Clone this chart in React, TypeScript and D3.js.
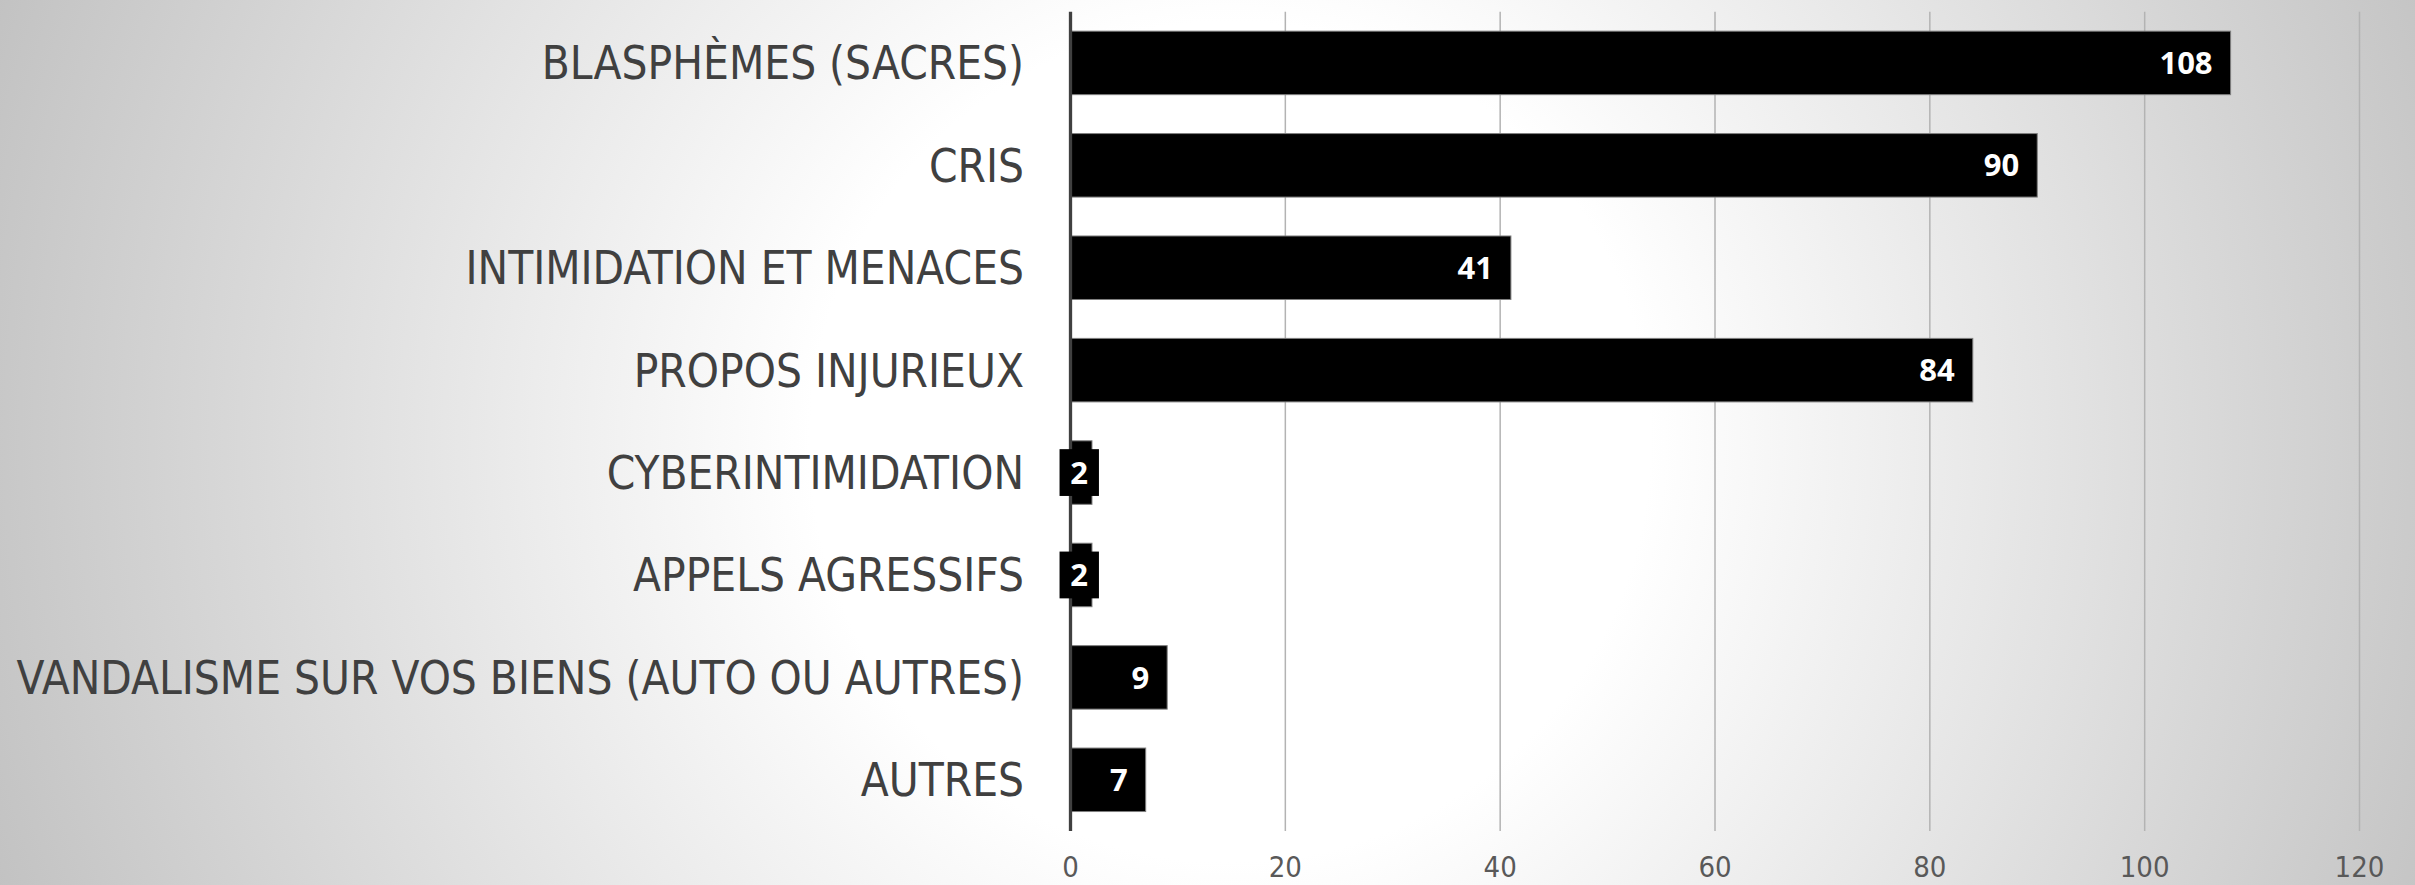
import React from "react";
import * as d3 from "d3";

const categories = [
  "BLASPHÈMES (SACRES)",
  "CRIS",
  "INTIMIDATION ET MENACES",
  "PROPOS INJURIEUX",
  "CYBERINTIMIDATION",
  "APPELS AGRESSIFS",
  "VANDALISME SUR VOS BIENS (AUTO OU AUTRES)",
  "AUTRES",
];
const values = [108, 90, 41, 84, 2, 2, 9, 7];
const xTicks = [0, 20, 40, 60, 80, 100, 120];

const width = 2415;
const height = 885;

const labelFont = "'DejaVu Sans Condensed', 'DejaVu Sans', sans-serif";
const valueFont = "'Open Sans', 'DejaVu Sans', sans-serif";

const App = () => {
  const x = d3.scaleLinear().domain([0, 120]).range([1070.5, 2359.5]);
  const y = d3
    .scaleBand()
    .domain(categories)
    .range([11.7, 831])
    .paddingInner(0.38)
    .paddingOuter(0.19);

  const top = y.range()[0];
  const bottom = y.range()[1];

  return (
    <svg
      width={width}
      height={height}
      style={{ position: "absolute", left: 0, top: 0, display: "block" }}
    >
      <defs>
        <radialGradient id="bg" gradientUnits="userSpaceOnUse" cx={1230} cy={442} r={1400}>
          <stop offset="0" stopColor="#ffffff" />
          <stop offset="0.3" stopColor="#ffffff" />
          <stop offset="1" stopColor="#bcbcbc" />
        </radialGradient>
      </defs>
      <rect x={0} y={0} width={width} height={height} fill="url(#bg)" />

      {/* gridlines */}
      {xTicks.slice(1).map((t) => (
        <line
          key={"g" + t}
          x1={x(t)}
          x2={x(t)}
          y1={top}
          y2={bottom}
          stroke="#b3b3b3"
          strokeWidth={1.5}
        />
      ))}

      {/* bars */}
      {categories.map((c, i) => (
        <rect
          key={"b" + c}
          x={x(0)}
          y={y(c)}
          width={x(values[i]) - x(0)}
          height={y.bandwidth()}
          fill="#000"
          stroke="#7f7f7f"
          strokeWidth={1}
        />
      ))}

      {/* axis line */}
      <line x1={x(0)} x2={x(0)} y1={top} y2={bottom} stroke="#404040" strokeWidth={3.3} />

      {/* value labels */}
      {categories.map((c, i) => {
        const v = values[i];
        const txt = String(v);
        const tw = txt.length * 17.4;
        const barW = x(v) - x(0);
        const cy = (y(c) as number) + y.bandwidth() / 2;
        if (barW < tw + 30) {
          // label doesn't fit: boxed, centred on the bar
          const cx = x(0) + barW / 2 - 2;
          const bw = tw + 22;
          return (
            <g key={"l" + c}>
              <rect x={cx - bw / 2} y={cy - 23.4} width={bw} height={46.8} fill="#000" />
              <text
                x={cx}
                y={cy}
                dy="0.36em"
                textAnchor="middle"
                fill="#fff"
                fontFamily={valueFont}
                fontWeight={700}
                fontSize={31}
              >
                {txt}
              </text>
            </g>
          );
        }
        return (
          <text
            key={"l" + c}
            x={x(v) - 18}
            y={cy}
            dy="0.36em"
            textAnchor="end"
            fill="#fff"
            fontFamily={valueFont}
            fontWeight={700}
            fontSize={31}
          >
            {txt}
          </text>
        );
      })}

      {/* category labels */}
      {categories.map((c) => (
        <text
          key={"c" + c}
          x={1024}
          y={(y(c) as number) + y.bandwidth() / 2}
          dy="0.36em"
          textAnchor="end"
          fill="#404040"
          fontFamily={labelFont}
          fontStretch="condensed"
          fontSize={45.5}
        >
          {c}
        </text>
      ))}

      {/* tick labels */}
      {xTicks.map((t) => (
        <text
          key={"t" + t}
          x={x(t)}
          y={877}
          textAnchor="middle"
          fill="#595959"
          fontFamily={labelFont}
          fontStretch="condensed"
          fontSize={29}
        >
          {t}
        </text>
      ))}
    </svg>
  );
};

export default App;
